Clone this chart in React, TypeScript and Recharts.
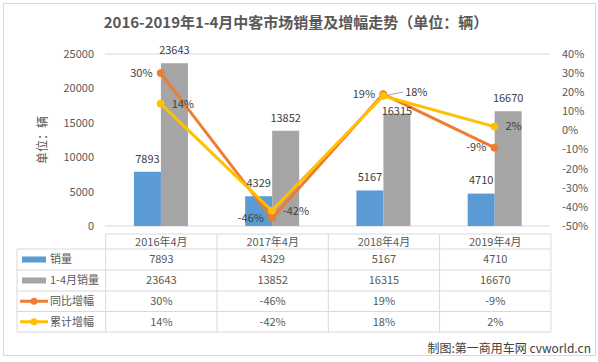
import React from 'react';
import { ComposedChart, Bar, Line, XAxis, YAxis, CartesianGrid, LabelList } from 'recharts';

const categories = ['2016年4月', '2017年4月', '2018年4月', '2019年4月'];
const monthSales = [7893, 4329, 5167, 4710];
const ytdSales = [23643, 13852, 16315, 16670];
const yoyGrowth = [30, -46, 19, -9];
const ytdGrowth = [14, -42, 18, 2];
const leftTicks = [0, 5000, 10000, 15000, 20000, 25000];
const rightTicks = [-50, -40, -30, -20, -10, 0, 10, 20, 30, 40];

const FONT = '"Noto Sans CJK SC", "Noto Sans", sans-serif';
const BLUE = '#5B9BD5';
const GRAY = '#A5A5A5';
const ORANGE = '#ED7D31';
const YELLOW = '#FFC000';
const TEXT = '#595959';
const LINE = '#d9d9d9';

const data = categories.map((name, i) => ({
  name,
  month: monthSales[i],
  ytd: ytdSales[i],
  yoy: yoyGrowth[i],
  cum: ytdGrowth[i],
}));

// bar value above the bar; the 2018 ytd label was nudged down onto the bar in the original
const BarLabel = (props: any) => {
  const { x, y, width, value, index, nudge } = props;
  const shift = nudge && index === 2 ? 10 : 0;
  return (
    <text x={x + width / 2} y={y - 13 + shift} dy="0.35em" textAnchor="middle" fontSize={11} fill="#404040" fontFamily={FONT}>
      {value}
    </text>
  );
};

// orange labels sit left of the point
const YoyLabel = (props: any) => {
  const { x, y, value } = props;
  return (
    <text x={x - 8} y={y} dy="0.35em" textAnchor="end" fontSize={11} fill="#404040" fontFamily={FONT}>
      {value}%
    </text>
  );
};

// yellow labels sit right of the point; the 2018 one is pushed out with a leader line
const CumLabel = (props: any) => {
  const { x, y, value, index } = props;
  if (index === 2) {
    return (
      <g>
        <line x1={x + 5} y1={y - 1} x2={x + 20} y2={y - 4} stroke="#a6a6a6" strokeWidth={1} />
        <text x={x + 22} y={y - 4} dy="0.35em" textAnchor="start" fontSize={11} fill="#404040" fontFamily={FONT}>
          {value}%
        </text>
      </g>
    );
  }
  return (
    <text x={x + 11} y={y} dy="0.35em" textAnchor="start" fontSize={11} fill="#404040" fontFamily={FONT}>
      {value}%
    </text>
  );
};

const tableLeft = 17;
const colStart = 105.7;
const colW = 111.3;
const rowYs = [234, 249, 270, 291, 311.5, 332];

const DataTable = () => {
  const rows = [
    { label: '销量', values: monthSales.map(String), key: 'bar', color: BLUE },
    { label: '1-4月销量', values: ytdSales.map(String), key: 'bar', color: GRAY },
    { label: '同比增幅', values: yoyGrowth.map((v) => `${v}%`), key: 'line', color: ORANGE },
    { label: '累计增幅', values: ytdGrowth.map((v) => `${v}%`), key: 'line', color: YELLOW },
  ];
  const right = colStart + colW * categories.length;
  return (
    <svg width={598} height={362} style={{ position: 'absolute', left: 0, top: 0 }}>
      {/* horizontal lines */}
      <line x1={colStart} x2={right} y1={rowYs[0]} y2={rowYs[0]} stroke={LINE} />
      {rowYs.slice(1).map((y) => (
        <line key={y} x1={tableLeft} x2={right} y1={y} y2={y} stroke={LINE} />
      ))}
      {/* vertical lines */}
      <line x1={tableLeft} x2={tableLeft} y1={rowYs[1]} y2={rowYs[5]} stroke={LINE} />
      {categories.map((_, i) => (
        <line key={i} x1={colStart + colW * i} x2={colStart + colW * i} y1={rowYs[0]} y2={rowYs[5]} stroke={LINE} />
      ))}
      <line x1={right} x2={right} y1={rowYs[0]} y2={rowYs[5]} stroke={LINE} />
      {categories.map((c, i) => (
        <text key={c} x={colStart + colW * (i + 0.5)} y={(rowYs[0] + rowYs[1]) / 2 + 1} dy="0.35em" textAnchor="middle" fontSize={11} fill={TEXT} fontFamily={FONT}>
          {c}
        </text>
      ))}
      {rows.map((r, ri) => {
        const cy = (rowYs[ri + 1] + rowYs[ri + 2]) / 2;
        return (
          <g key={r.label}>
            {r.key === 'bar' ? (
              <rect x={22} y={cy - 3} width={24} height={6} fill={r.color} />
            ) : (
              <g>
                <line x1={20} x2={48} y1={cy} y2={cy} stroke={r.color} strokeWidth={3} />
                <circle cx={34} cy={cy} r={3.5} fill={r.color} />
              </g>
            )}
            <text x={50} y={cy} dy="0.35em" fontSize={11} fill={TEXT} fontFamily={FONT}>
              {r.label}
            </text>
            {r.values.map((v, i) => (
              <text key={i} x={colStart + colW * (i + 0.5)} y={cy} dy="0.35em" textAnchor="middle" fontSize={11} fill={TEXT} fontFamily={FONT}>
                {v}
              </text>
            ))}
          </g>
        );
      })}
    </svg>
  );
};

export default function App() {
  return (
    <div style={{ position: 'absolute', left: 0, top: 0, width: 598, height: 362, background: '#fff', fontFamily: FONT }}>
      <div style={{ position: 'absolute', left: 3, top: 3, width: 591, height: 351, border: `1px solid ${LINE}` }} />
      <div style={{ position: 'absolute', left: 0, top: 12, width: 592, textAlign: 'center', fontSize: 15, fontWeight: 'bold', color: TEXT, lineHeight: '20px' }}>
        2016-2019年1-4月中客市场销量及增幅走势（单位：辆）
      </div>
      <div style={{ position: 'absolute', left: 0, top: 0 }}>
        <ComposedChart width={598} height={240} data={data} margin={{ top: 54, right: 0, left: 0, bottom: 14 }} barCategoryGap="26%" barGap={0}>
          <CartesianGrid horizontal vertical={false} stroke={LINE} />
          <XAxis dataKey="name" hide />
          <YAxis
            yAxisId="left"
            width={105}
            domain={[0, 25000]}
            ticks={leftTicks}
            interval={0}
            tickLine={false}
            axisLine={false}
            tickMargin={5}
            tick={{ fontSize: 11, fill: TEXT, fontFamily: FONT }}
            label={{ value: '单位：辆', angle: -90, position: 'center', dx: -10, fontSize: 12, fill: TEXT, fontFamily: FONT }}
          />
          <YAxis
            yAxisId="right"
            orientation="right"
            width={48}
            domain={[-50, 40]}
            ticks={rightTicks}
            interval={0}
            tickLine={false}
            axisLine={false}
            tickMargin={6}
            tickFormatter={(v) => `${v}%`}
            tick={{ fontSize: 11, fill: TEXT, fontFamily: FONT }}
          />
          <Bar yAxisId="left" dataKey="month" fill={BLUE} isAnimationActive={false}>
            <LabelList dataKey="month" content={<BarLabel />} />
          </Bar>
          <Bar yAxisId="left" dataKey="ytd" fill={GRAY} isAnimationActive={false}>
            <LabelList dataKey="ytd" content={<BarLabel nudge />} />
          </Bar>
          <Line yAxisId="right" dataKey="yoy" stroke={ORANGE} strokeWidth={3} dot={{ r: 3.5, fill: ORANGE, stroke: ORANGE, strokeWidth: 1 }} isAnimationActive={false}>
            <LabelList dataKey="yoy" content={<YoyLabel />} />
          </Line>
          <Line yAxisId="right" dataKey="cum" stroke={YELLOW} strokeWidth={3} dot={{ r: 3.5, fill: YELLOW, stroke: YELLOW, strokeWidth: 1 }} isAnimationActive={false}>
            <LabelList dataKey="cum" content={<CumLabel />} />
          </Line>
        </ComposedChart>
      </div>
      <DataTable />
      <div style={{ position: 'absolute', right: 7, top: 339, fontSize: 12, color: '#404040', lineHeight: '18px' }}>
        制图:第一商用车网 cvworld.cn
      </div>
    </div>
  );
}
